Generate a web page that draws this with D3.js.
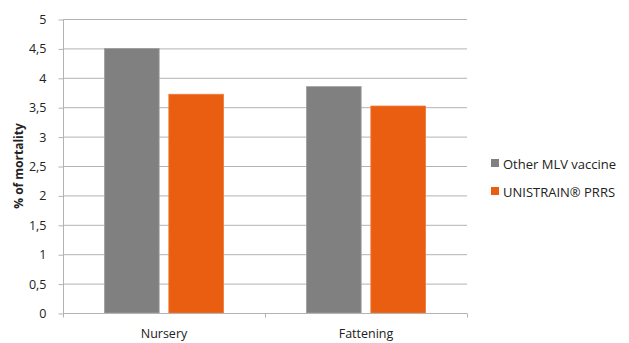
<!DOCTYPE html>
<html><head><meta charset="utf-8">
<script src="https://cdn.jsdelivr.net/npm/d3@7"></script>
<style>body{margin:0;background:#fff}svg{display:block}text{font-family:"Open Sans","Liberation Sans",sans-serif;fill:#222}</style>
</head><body><svg id="c" width="629" height="343"></svg>
<script>
const categories = ["Nursery", "Fattening"];
const seriesNames = ["Other MLV vaccine", "UNISTRAIN\u00AE PRRS"];
const otherMLV = [4.5, 3.85];
const unistrain = [3.72, 3.52];
const yTicks = [0, 0.5, 1, 1.5, 2, 2.5, 3, 3.5, 4, 4.5, 5];
const colors = ["#808080", "#e95e10"];

const svg = d3.select("#c");
const L = 63, R = 467, T = 19, B = 313;
const y = d3.scaleLinear().domain([0, 5]).range([B, T]);
const x0 = d3.scaleBand().domain(categories).range([L, R]).paddingInner(0.41).paddingOuter(0.205);
const x1 = d3.scaleBand().domain([0, 1]).range([0, x0.bandwidth()]).paddingInner(0.15);
const fmt = v => String(v).replace(".", ",");

// gridlines
svg.append("g").selectAll("line").data(yTicks.filter(d => d > 0)).join("line")
  .attr("x1", L).attr("x2", R).attr("y1", d => y(d) + 0.5).attr("y2", d => y(d) + 0.5)
  .attr("stroke", "#b3b3b3").attr("stroke-width", 1);

// bars
const series = [otherMLV, unistrain];
const g = svg.append("g");
categories.forEach((c, i) => {
  series.forEach((s, j) => {
    g.append("rect")
      .attr("x", x0(c) + x1(j)).attr("width", x1.bandwidth())
      .attr("y", y(s[i])).attr("height", B - y(s[i]))
      .attr("fill", colors[j])
      .attr("stroke", j === 0 ? "#a0a0a0" : "#f07a3a").attr("stroke-width", 0.8);
  });
});

// y axis
const yAxis = d3.axisLeft(y).tickValues(yTicks).tickFormat(fmt).tickSize(5).tickPadding(12);
const ya = svg.append("g").attr("transform", `translate(${L + 0.5},0.5)`).call(yAxis);
ya.select(".domain").attr("stroke", "#b3b3b3").attr("d", `M0,${T}V${B}`);
ya.selectAll(".tick line").attr("stroke", "#b3b3b3");
ya.selectAll(".tick text").style("font-size", "12.5px").attr("fill", "#222");

// x axis
const xa = svg.append("g").attr("transform", `translate(0,${B + 0.5})`);
xa.append("line").attr("x1", L).attr("x2", R).attr("stroke", "#b3b3b3");
const bounds = [L, L + x0.step(), R];
xa.selectAll("line.t").data(bounds).join("line").attr("class", "t")
  .attr("x1", d => d + 0.5).attr("x2", d => d + 0.5).attr("y1", 0).attr("y2", 4).attr("stroke", "#b3b3b3");
xa.selectAll("text").data(categories).join("text")
  .attr("x", d => x0(d) + x0.bandwidth() / 2).attr("y", 24.5)
  .attr("text-anchor", "middle").style("font-size", "12.5px").text(d => d);

// y title
svg.append("text").attr("transform", "translate(23,166) rotate(-90)")
  .attr("text-anchor", "middle").style("font-size", "12px").style("font-weight", "bold")
  .text("% of mortality");

// legend
const lg = svg.append("g").attr("transform", "translate(491,0)");
seriesNames.forEach((n, j) => {
  const yy = 164 + j * 28;
  lg.append("rect").attr("x", 0).attr("y", yy - 5).attr("width", 8).attr("height", 8).attr("fill", colors[j]);
  lg.append("text").attr("x", 12).attr("y", yy + 4.5).style("font-size", "13px").text(n);
});
</script></body></html>
